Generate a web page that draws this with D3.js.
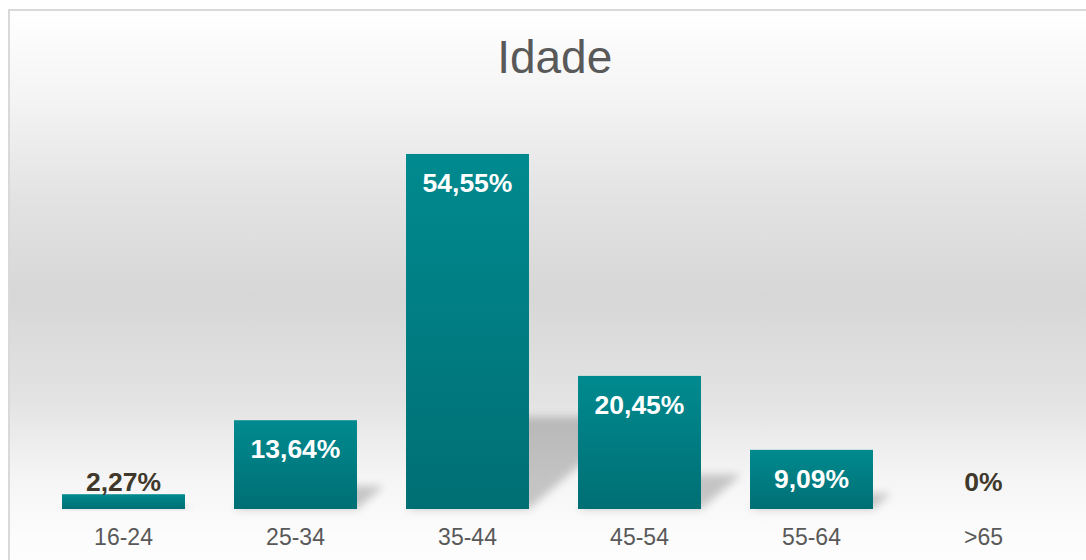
<!DOCTYPE html>
<html lang="pt">
<head>
    <meta charset="UTF-8">
    <title>Idade</title>
    <script src="https://d3js.org/d3.v7.min.js"></script>
    <style>
        html, body {
            margin: 0;
            padding: 0;
            background-color: #ffffff;
            overflow: hidden;
        }
        svg {
            display: block;
            font-family: "Liberation Sans", Arial, sans-serif;
        }
    </style>
</head>
<body>
    <div id="chart"></div>
    <script>
        // Data
        const categories = ["16-24", "25-34", "35-44", "45-54", "55-64", ">65"];
        const percentages = [2.27, 13.64, 54.55, 20.45, 9.09, 0];
        const chartTitle = "Idade";

        const width = 1086;
        const height = 560;
        const baseline = 509;

        const svg = d3.select("#chart")
            .append("svg")
            .attr("width", width)
            .attr("height", height);

        const defs = svg.append("defs");

        // Background gradient (white -> gray -> white)
        const bg = defs.append("linearGradient")
            .attr("id", "bg-grad")
            .attr("gradientUnits", "userSpaceOnUse")
            .attr("x1", 0).attr("y1", 10)
            .attr("x2", 0).attr("y2", 560);
        [[0, "#ffffff"], [0.16, "#f4f4f4"], [0.35, "#e2e2e2"], [0.52, "#d7d7d7"], [0.71, "#e3e3e3"],
         [0.85, "#f5f5f5"], [0.96, "#fcfcfc"], [1, "#fdfdfd"]].forEach(s => {
            bg.append("stop").attr("offset", s[0]).attr("stop-color", s[1]);
        });

        // Bar gradient
        const barGrad = defs.append("linearGradient")
            .attr("id", "bar-grad")
            .attr("x1", 0).attr("y1", 0)
            .attr("x2", 0).attr("y2", 1);
        barGrad.append("stop").attr("offset", 0).attr("stop-color", "#008a8f");
        barGrad.append("stop").attr("offset", 1).attr("stop-color", "#006f74");

        defs.append("filter")
            .attr("id", "blur")
            .attr("x", "-50%").attr("y", "-50%")
            .attr("width", "200%").attr("height", "200%")
            .append("feGaussianBlur")
            .attr("stdDeviation", 4);

        // Chart area
        svg.append("rect")
            .attr("x", 9)
            .attr("y", 10)
            .attr("width", 1100)
            .attr("height", 600)
            .attr("fill", "url(#bg-grad)")
            .attr("stroke", "#d9d9d9")
            .attr("stroke-width", 2);

        // Scales
        const x = d3.scaleBand()
            .domain(categories)
            .range([37.5, 1069.5])
            .paddingInner(0.285)
            .paddingOuter(0.1425);

        const y = d3.scaleLinear()
            .domain([0, 60])
            .range([baseline, baseline - 390.5]);

        const data = categories.map((c, i) => ({ cat: c, value: percentages[i] }));

        // Perspective shadows behind the bars
        svg.append("g")
            .selectAll("polygon")
            .data(data.filter(d => d.value > 0))
            .join("polygon")
            .attr("points", d => {
                const x0 = x(d.cat);
                const x1 = x0 + x.bandwidth();
                const h = baseline - y(d.value);
                const kh = h * 0.26;
                const sh = h * 0.3;
                return [[x0, baseline], [x1, baseline], [x1 + sh, baseline - kh], [x0 + sh, baseline - kh]]
                    .map(p => p.join(",")).join(" ");
            })
            .attr("fill", "#000000")
            .attr("opacity", 0.2)
            .attr("filter", "url(#blur)");

        // Bars
        svg.append("g")
            .selectAll("rect")
            .data(data)
            .join("rect")
            .attr("x", d => x(d.cat))
            .attr("y", d => y(d.value))
            .attr("width", x.bandwidth())
            .attr("height", d => baseline - y(d.value))
            .attr("fill", "url(#bar-grad)");

        // Value labels
        const locale = d3.formatLocale({ decimal: ",", thousands: ".", grouping: [3], currency: ["", ""] });
        const fmt = locale.format(".2f");
        const labelText = v => v === 0 ? "0%" : fmt(v) + "%";

        svg.append("g")
            .selectAll("text")
            .data(data)
            .join("text")
            .attr("x", d => x(d.cat) + x.bandwidth() / 2)
            .attr("y", d => {
                const h = baseline - y(d.value);
                if (h > 40) return y(d.value) + 38;
                return Math.min(y(d.value) - 3.5, baseline - 18);
            })
            .attr("text-anchor", "middle")
            .attr("font-size", "26.5px")
            .attr("font-weight", "bold")
            .attr("fill", d => (baseline - y(d.value)) > 40 ? "#ffffff" : "#40392b")
            .text(d => labelText(d.value));

        // Category axis labels
        const xAxis = d3.axisBottom(x).tickSize(0).tickPadding(0);
        const axisG = svg.append("g")
            .attr("transform", `translate(0,${baseline})`)
            .call(xAxis);
        axisG.select(".domain").remove();
        axisG.selectAll("text")
            .attr("y", 36)
            .attr("dy", null)
            .attr("font-family", "'Liberation Sans', Arial, sans-serif")
            .attr("font-size", "23px")
            .attr("fill", "#595959");

        // Title
        svg.append("text")
            .attr("x", 554.7)
            .attr("y", 73)
            .attr("text-anchor", "middle")
            .attr("font-size", "46px")
            .attr("fill", "#595959")
            .text(chartTitle);
    </script>
</body>
</html>
